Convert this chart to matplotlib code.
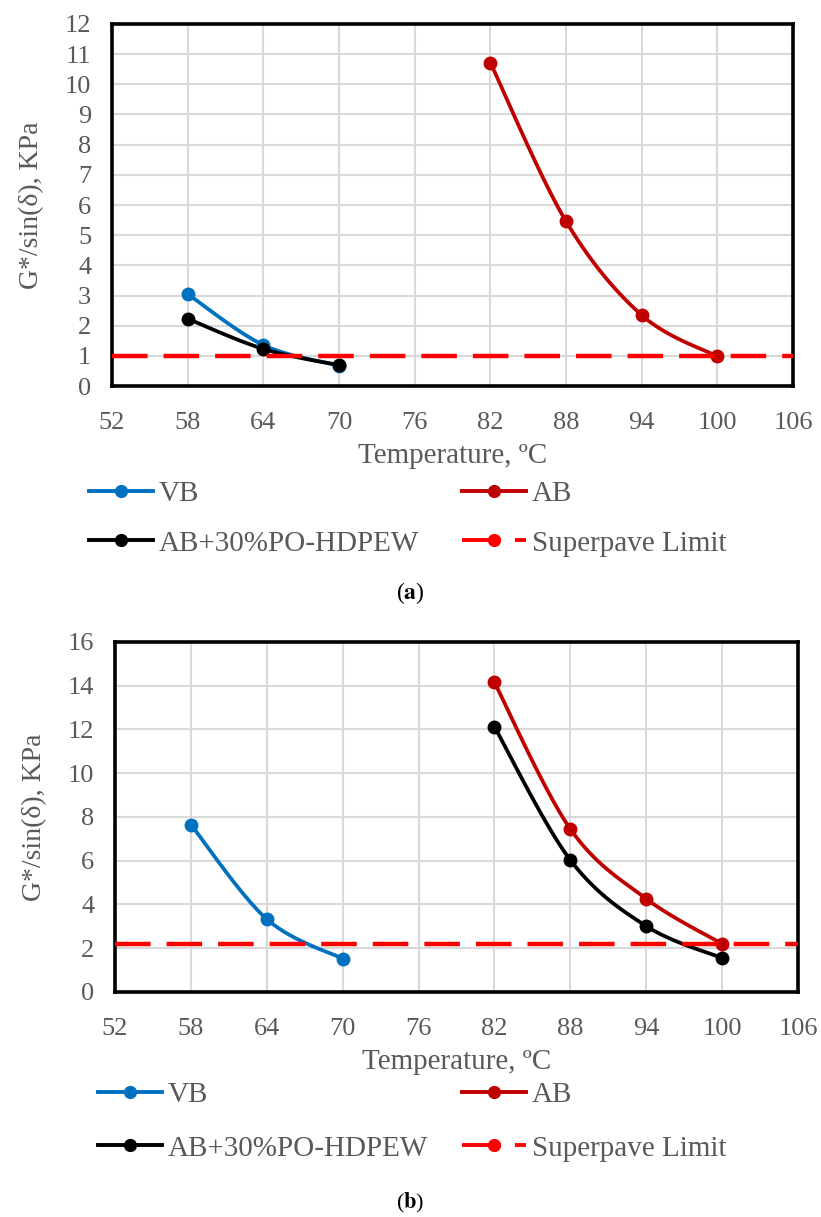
import numpy as np
import matplotlib
matplotlib.use("Agg")
import matplotlib.pyplot as plt

plt.rcParams['font.family'] = ['Liberation Serif', 'DejaVu Serif']
plt.rcParams['mathtext.fontset'] = 'stix'

# temperaturas (ºC)
temp_vb = [58, 64, 70]
temp_ab = [82, 88, 94, 100]

# (a) valores G*/sin(delta), KPa
a_vb = [3.05, 1.36, 0.68]
a_ab30 = [2.23, 1.23, 0.69]
a_ab = [10.72, 5.46, 2.35, 0.98]
a_limite = 1.0

# (b) valores G*/sin(delta), KPa
b_vb = [7.65, 3.33, 1.52]
b_ab30 = [12.12, 6.03, 3.01, 1.55]
b_ab = [14.15, 7.45, 4.26, 2.2]
b_limite = 2.2

cor_vb = '#0070C0'
cor_ab = '#C00000'
cor_ab30 = '#000000'
cor_lim = '#FF0000'
cinza = '#595959'


def suavizar(x, y, n=40):
    """Curva suave tipo Excel (Catmull-Rom -> Bezier) passando pelos pontos"""
    p = np.column_stack([x, y]).astype(float)
    pts = np.vstack([p[0], p, p[-1]])
    out = []
    for i in range(1, len(pts) - 2):
        p0, p1, p2, p3 = pts[i - 1], pts[i], pts[i + 1], pts[i + 2]
        c1 = p1 + (p2 - p0) / 6
        c2 = p2 - (p3 - p1) / 6
        t = np.linspace(0, 1, n)[:, None]
        seg = ((1 - t) ** 3) * p1 + 3 * ((1 - t) ** 2) * t * c1 + 3 * (1 - t) * t ** 2 * c2 + t ** 3 * p2
        out.append(seg)
    c = np.vstack(out)
    return c[:, 0], c[:, 1]


def painel(ax, vb, ab, ab30, limite, ymax, ystep):
    ax.set_xlim(52, 106)
    ax.set_ylim(0, ymax)
    ax.set_xticks(np.arange(52, 107, 6))
    ax.set_yticks(np.arange(0, ymax + 0.1, ystep))
    ax.grid(True, color='#D9D9D9', linewidth=1.5)
    ax.set_axisbelow(True)

    series = [(temp_vb, vb, cor_vb, 'VB'), (temp_ab, ab, cor_ab, 'AB'),
              (temp_vb if len(ab30) == 3 else temp_ab, ab30, cor_ab30, 'AB+30%PO-HDPEW')]
    handles = {}
    for x, y, cor, nome in series:
        xs, ys = suavizar(x, y)
        ax.plot(xs, ys, color=cor, lw=2.7, zorder=3)
        ax.plot(x, y, 'o', color=cor, ms=9, zorder=4)
        handles[nome] = ax.plot([], [], '-o', color=cor, lw=2.8, ms=8.5, label=nome)[0]
    ax.axhline(limite, color=cor_lim, lw=3.2, dashes=(8, 3.6), zorder=5)
    handles['Superpave Limit'] = ax.plot([], [], '-o', color=cor_lim, lw=2.8, ms=8.5,
                                         dashes=(10, 3.6, 4, 3.6), label='Superpave Limit')[0]

    for s in ax.spines.values():
        s.set_linewidth(2.6)
        s.set_color('black')
    ax.tick_params(axis='both', length=0, labelsize=19, labelcolor=cinza)
    ax.tick_params(axis='x', pad=19)
    ax.tick_params(axis='y', pad=15)
    ax.set_xlabel('Temperature, ºC', fontsize=21, color=cinza, labelpad=6)
    ax.set_ylabel('G*/sin(δ), KPa', fontsize=20, color=cinza)
    ax.yaxis.set_label_coords(-0.100, 0.5)
    return [handles['VB'], handles['AB+30%PO-HDPEW'], handles['AB'], handles['Superpave Limit']]


fig = plt.figure(figsize=(8.21, 12.17), dpi=100)

ax1 = fig.add_axes([0.1364, 0.6828, 0.8295, 0.2975])
h1 = painel(ax1, a_vb, a_ab, a_ab30, a_limite, 12, 1)
ax1.legend(handles=h1, loc='upper left', bbox_to_anchor=(0.108, 0.6048), bbox_transform=fig.transFigure,
           ncol=2, frameon=False, fontsize=21, handlelength=2.2, handletextpad=0.2,
           columnspacing=1.47, labelspacing=0.78, borderpad=0, borderaxespad=0, labelcolor=cinza)
fig.text(0.5, 1 - 593 / 1217, r'($\mathbf{a}$)', ha='center', va='center', fontsize=17)

ax2 = fig.add_axes([0.1401, 0.1849, 0.8319, 0.2876])
h2 = painel(ax2, b_vb, b_ab, b_ab30, b_limite, 16, 2)
ax2.legend(handles=h2, loc='upper left', bbox_to_anchor=(0.119, 0.1109), bbox_transform=fig.transFigure,
           ncol=2, frameon=False, fontsize=21, handlelength=2.2, handletextpad=0.2,
           columnspacing=1.17, labelspacing=0.92, borderpad=0, borderaxespad=0, labelcolor=cinza)
fig.text(0.5, 1 - 1203 / 1217, r'($\mathbf{b}$)', ha='center', va='center', fontsize=16)

fig.savefig('out.png', dpi=100)
